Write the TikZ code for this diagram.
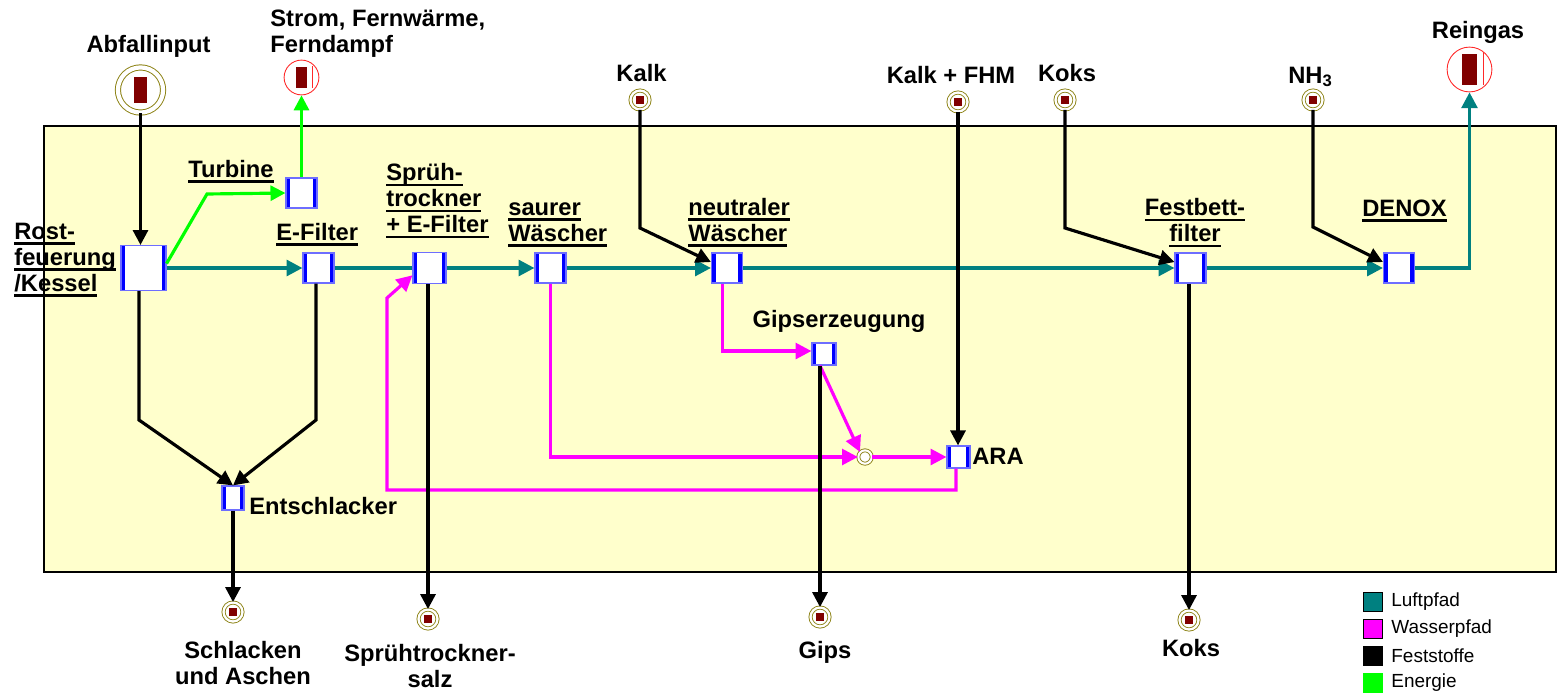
\documentclass[tikz,border=0pt]{standalone}
\usepackage{fontspec}
\setmainfont{Liberation Sans}
\usetikzlibrary{arrows.meta}
\definecolor{luftcol}{RGB}{0,128,128}
\definecolor{wassercol}{RGB}{255,0,255}
\definecolor{energiecol}{RGB}{0,255,0}
\definecolor{anlagecol}{RGB}{255,255,204}
\definecolor{quellcol}{RGB}{140,130,20}
\definecolor{stoffcol}{RGB}{128,0,0}
\definecolor{kastenblau}{RGB}{0,0,255}
\definecolor{kastenrand}{RGB}{110,110,255}
\definecolor{zielrot}{RGB}{255,40,40}
\newcommand{\ulab}[1]{\setbox0=\hbox{#1}\rlap{\rule[-3.3pt]{\wd0}{1.7pt}}\box0}

\begin{document}
\begin{tikzpicture}[x=0.02cm, y=-0.02cm,
    every node/.style={font=\fontsize{13.5}{14.8}\selectfont\bfseries, inner sep=0pt},
    proc/.style={rectangle, draw=kastenrand, fill=white, line width=0.7pt,
      minimum width=17.6pt, minimum height=17pt,
      path picture={
        \fill[kastenblau] (path picture bounding box.south west) rectangle ([xshift=2.4pt]path picture bounding box.north west);
        \fill[kastenblau] (path picture bounding box.south east) rectangle ([xshift=-2.4pt]path picture bounding box.north east);}},
    quelle/.style={circle, draw=quellcol, fill=white, line width=0.5pt, double=white,
      double distance=1.3pt, minimum size=10.8pt,
      path picture={\fill[stoffcol] (path picture bounding box.center) ++(-2.3pt,-2pt) rectangle ++(4.6pt,4pt);}},
    grossquelle/.style={circle, draw=quellcol, fill=white, line width=0.55pt, double=white,
      double distance=2.4pt, minimum size=25.7pt,
      path picture={\fill[stoffcol] (path picture bounding box.center) ++(-3.95pt,-7.35pt) rectangle ++(7.9pt,14.7pt);}},
    ziel/.style n args={3}{circle, draw=zielrot, fill=white, line width=0.5pt, minimum size=#1,
      path picture={
        \fill[stoffcol] (path picture bounding box.center) ++({-0.5*#2},{-0.5*#3}) rectangle ++(#2,#3);
        \draw[zielrot, line width=0.5pt] (path picture bounding box.center) ++({0.9*#2},{-0.5*#3}) -- ++(0,{1.05*#3});}},
    misch/.style={circle, draw=quellcol, fill=white, line width=0.5pt, double=white,
      double distance=1.2pt, minimum size=7.6pt},
    luft/.style={draw=luftcol, line width=1.9pt, -{Triangle[length=9pt,width=9pt]}},
    wasser/.style={draw=wassercol, line width=1.8pt, -{Triangle[length=9pt,width=9pt]}},
    fest/.style={draw=black, line width=1.8pt, -{Triangle[length=8.5pt,width=8.5pt]}},
    energie/.style={draw=energiecol, line width=1.8pt, -{Triangle[length=8.5pt,width=8.5pt]}},
    legfeld/.style={rectangle, line width=0.8pt, minimum size=10.6pt},
    legtext/.style={anchor=west, font=\fontsize{10.8}{12}\selectfont}]
  \useasboundingbox (0,0) rectangle (1558,696);

  % ── Anlage ───────────────────────────────────────────────────────────────
  \draw[line width=1.1pt, fill=anlagecol] (44,126) rectangle (1556,572);

  % ── Verfahrensstufen ─────────────────────────────────────────────────────
  \node[proc, minimum width=25.5pt, minimum height=25.5pt] (rost) at (143.5,268) {};
  \node[proc] (turbine)  at (301.5,193) {};
  \node[proc] (efilter)  at (318.5,268) {};
  \node[proc, minimum width=18.7pt, minimum height=17.6pt] (spruehtr) at (429.5,268) {};
  \node[proc] (sauer)    at (550.5,268) {};
  \node[proc] (neutral)  at (727,268) {};
  \node[proc, minimum width=13.6pt, minimum height=12.5pt] (gipserz) at (824,354) {};
  \node[proc, minimum width=13pt, minimum height=12.5pt] (ara) at (958.5,457) {};
  \node[proc, minimum width=12.5pt, minimum height=13.6pt] (entschl) at (233,498) {};
  \node[proc] (festbett) at (1190.5,268) {};
  \node[proc] (denox)    at (1399,268) {};

  % ── Quellen und Senken ───────────────────────────────────────────────────
  \node[grossquelle] (abfall) at (140.5,90) {};
  \node[ziel={19.8pt}{6.8pt}{11.9pt}] (strom) at (301.5,77.5) {};
  \node[ziel={25.5pt}{8.5pt}{17.6pt}] (reingas) at (1469.5,69.5) {};
  \node[quelle] (kalk)     at (640,100) {};
  \node[quelle] (kalkfhm)  at (958,102) {};
  \node[quelle] (kokszu)   at (1065,100) {};
  \node[quelle] (nhdrei)   at (1313,100) {};
  \node[quelle] (schlacke) at (233,612) {};
  \node[quelle] (salz)     at (428,619) {};
  \node[quelle] (gips)     at (820,617) {};
  \node[quelle] (koksab)   at (1189,620) {};
  \node[misch] (mischpkt)  at (865,457) {};

  % ── Beschriftungen ───────────────────────────────────────────────────────
  \node (labfall) at (148.5,46) {Abfallinput};
  \node[anchor=west, align=left] (lstrom) at (270,34) {Strom, Fernwärme,\\Ferndampf};
  \node (lkalk) at (641.5,73.5) {Kalk};
  \node (lkalkfhm) at (951,75.5) {Kalk + FHM};
  \node (lkokszu) at (1067,73.5) {Koks};
  \node (lnhdrei) at (1310.5,77) {NH\textsubscript{3}};
  \node (lreingas) at (1478,32.5) {Reingas};
  \node[anchor=west, align=left] (lrost) at (14,260) {\ulab{Rost-}\\\ulab{feuerung}\\\ulab{/Kessel}};
  \node[anchor=west] (lturbine) at (188,171.5) {\ulab{Turbine}};
  \node[anchor=west] (lefilter) at (276,234.5) {\ulab{E-Filter}};
  \node[anchor=west, align=left] (lspruehtr) at (386,201) {\ulab{Sprüh-}\\\ulab{trockner}\\\ulab{+ E-Filter}};
  \node[anchor=west, align=left] (lsauer) at (508,225) {\ulab{saurer}\\\ulab{Wäscher}};
  \node[anchor=west, align=left] (lneutral) at (688,222.5) {\ulab{neutraler}\\\ulab{Wäscher}};
  \node[align=center] (lfestbett) at (1195,223) {\ulab{Festbett-}\\\ulab{filter}};
  \node (ldenox) at (1404.5,211) {\ulab{DENOX}};
  \node (lgipserz) at (839,321) {Gipserzeugung};
  \node[anchor=west] (lara) at (972,456) {ARA};
  \node[anchor=west] (lentschl) at (249,506) {Entschlacker};
  \node[align=center] (lschlacke) at (243,663) {Schlacken\\und Aschen};
  \node[align=center] (lsalz) at (430,666) {Sprühtrockner-\\salz};
  \node (lgips) at (825,652) {Gips};
  \node (lkoksab) at (1191,648) {Koks};

  % ── Knickpunkte ──────────────────────────────────────────────────────────
  \coordinate (tknick) at (207,194);
  \coordinate (rknick) at (139,420);
  \coordinate (eknick) at (316,420);
  \coordinate (kknick) at (640,228);
  \coordinate (koknick) at (1065,228);
  \coordinate (nknick) at (1313,227);
  \coordinate (aknick) at (956,490);
  \coordinate (rueckknick) at (387,490);
  \coordinate (sknick) at (387,298);

  % ── Wasserpfad ───────────────────────────────────────────────────────────
  \draw[wasser] ([xshift=-2.8pt]neutral.south) |- ([yshift=1.7pt]gipserz.west);
  \draw[wasser] (sauer.south) |- (mischpkt.west);
  \draw[wasser] ([xshift=-2.3pt]gipserz.south) -- (mischpkt.north west);
  \draw[wasser] (mischpkt.east) -- (ara.west);
  \draw[wasser] (ara.south -| aknick) -- (aknick) -- (rueckknick) -- (sknick)
    -- ([yshift=5pt]spruehtr.south west);

  % ── Luftpfad ─────────────────────────────────────────────────────────────
  \draw[luft] (rost.east) -- (efilter.west);
  \draw[luft, -] (efilter.east) -- (spruehtr.west);
  \draw[luft] (spruehtr.east) -- (sauer.west);
  \draw[luft] (sauer.east) -- (neutral.west);
  \draw[luft] (neutral.east) -- (festbett.west);
  \draw[luft] (festbett.east) -- (denox.west);
  \draw[luft] (denox.east) -| (reingas.south);

  % ── Energie ──────────────────────────────────────────────────────────────
  \draw[energie] ([yshift=2.5pt]rost.east) -- (tknick) -- (turbine.west);
  \draw[energie] (turbine.north) -- (strom.south);

  % ── Feststoffe ───────────────────────────────────────────────────────────
  \draw[fest] (abfall.south) -- (abfall.south |- rost.north);
  \draw[fest] (rost.south -| rknick) -- (rknick) -- (entschl.north);
  \draw[fest] (efilter.south -| eknick) -- (eknick) -- (entschl.north);
  \draw[fest] (entschl.south) -- (schlacke.north);
  \draw[fest] (spruehtr.south -| salz) -- (salz.north);
  \draw[fest] (kalk.south) -- (kknick) -- ([yshift=3.4pt]neutral.west);
  \draw[fest] (kalkfhm.south) -- (kalkfhm.south |- ara.north);
  \draw[fest] (kokszu.south) -- (koknick) -- ([yshift=3.4pt]festbett.west);
  \draw[fest] (nhdrei.south) -- (nknick) -- ([yshift=3.4pt]denox.west);
  \draw[fest] (gipserz.south -| gips) -- (gips.north);
  \draw[fest] (festbett.south -| koksab) -- (koksab.north);

  % ── Legende ──────────────────────────────────────────────────────────────
  \foreach \name/\col/\rand/\y/\txt in {luft/luftcol/black/602/Luftpfad,
      wasser/wassercol/black/629/Wasserpfad, fest/black/black/656/Feststoffe,
      energie/energiecol/energiecol/683/Energie} {
    \node[legfeld, fill=\col, draw=\rand] (leg\name) at (1373,\y) {};
    \node[legtext] (t\name) at (1391,\y) {\txt};
  }
\end{tikzpicture}
\end{document}
